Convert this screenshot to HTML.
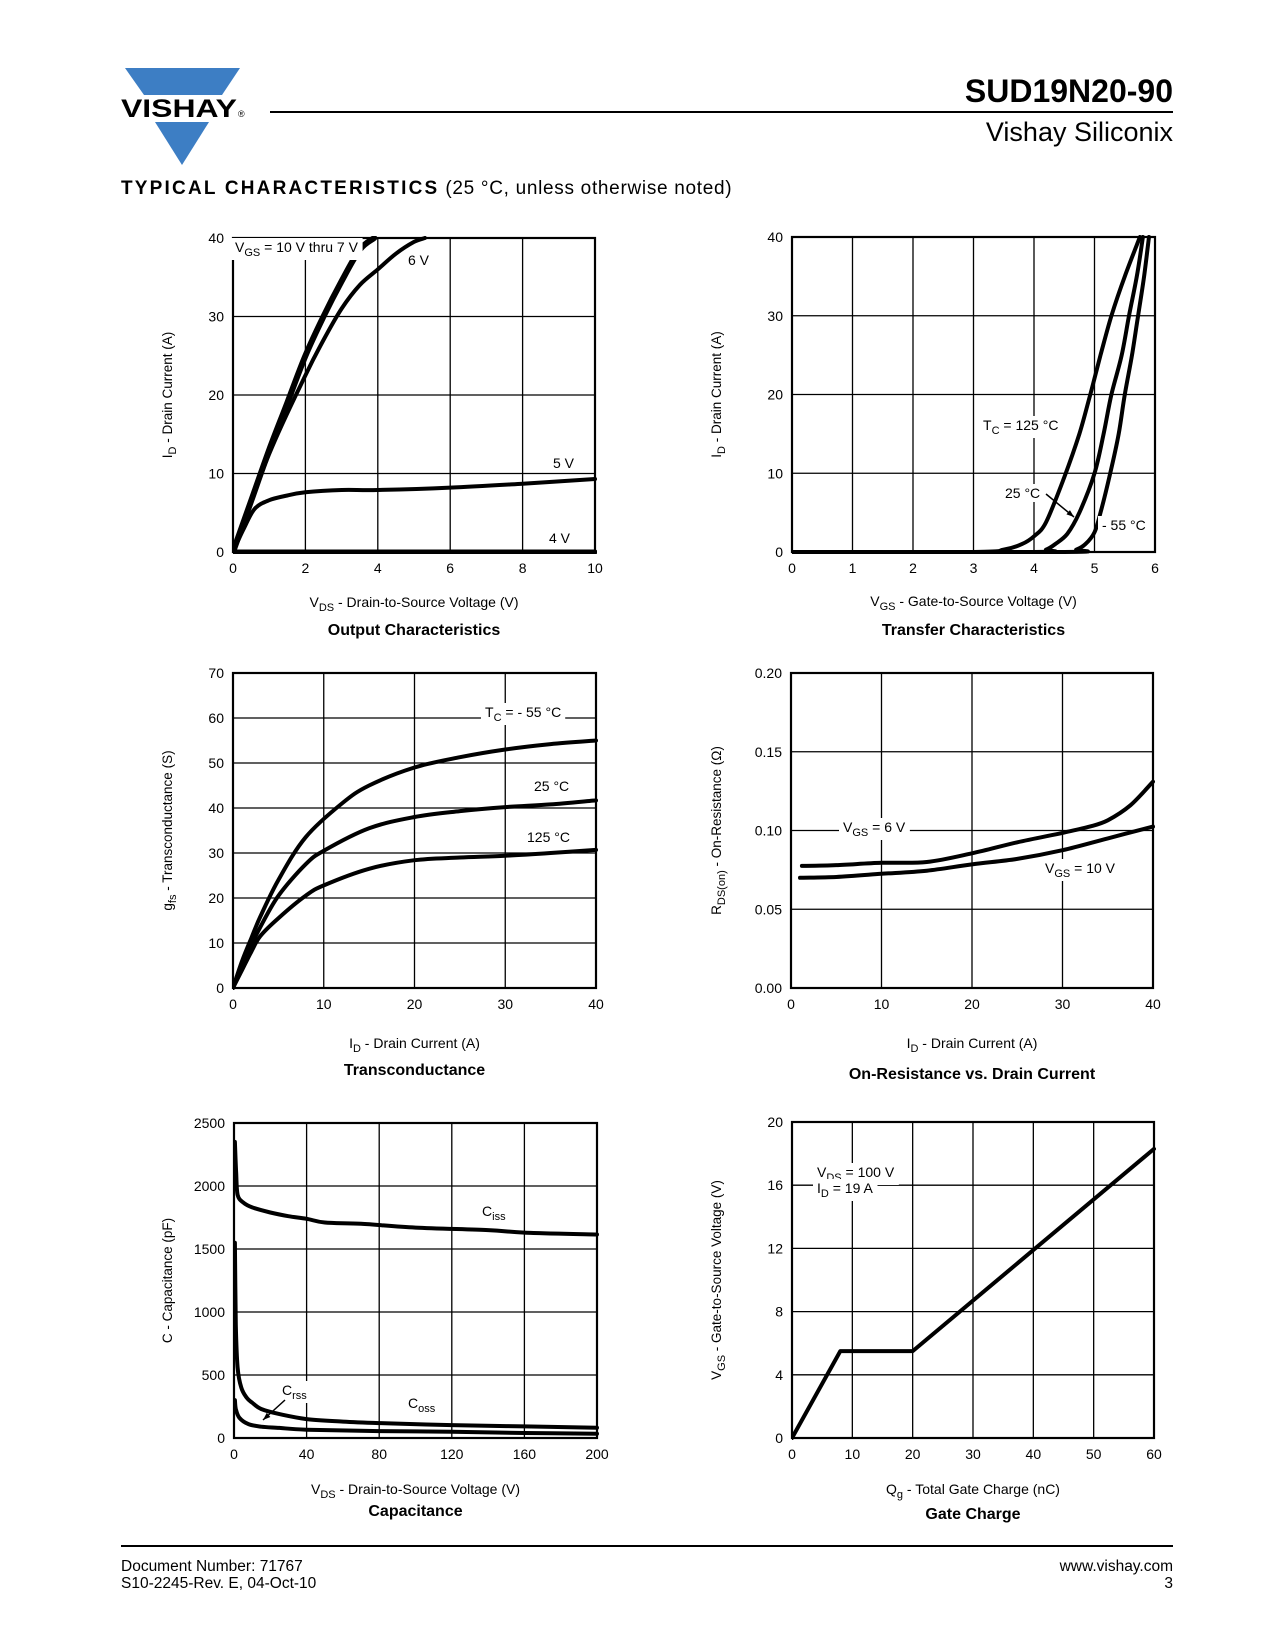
<!DOCTYPE html>
<html><head><meta charset="utf-8"><style>
html,body{margin:0;padding:0;background:#fff}
svg{display:block}
text{font-family:"Liberation Sans",sans-serif;fill:#000}
</style></head><body>
<svg id="page" width="1275" height="1650" viewBox="0 0 1275 1650" xmlns="http://www.w3.org/2000/svg">
<g>
<polygon points="125,68 240,68 222,95 144,95" fill="#3d7ec4"/>
<text x="121" y="117" font-size="25" font-weight="bold" textLength="116" lengthAdjust="spacingAndGlyphs">VISHAY</text>
<text x="238" y="117" font-size="9">®</text>
<polygon points="155,122 209,122 182,165" fill="#3d7ec4"/>
</g>
<line x1="270" y1="112" x2="1173" y2="112" stroke="#000" stroke-width="2"/>
<text x="1173" y="102" font-size="32" font-weight="bold" text-anchor="end">SUD19N20-90</text>
<text x="1173" y="141" font-size="27" text-anchor="end">Vishay Siliconix</text>
<text x="121" y="194" font-size="19"><tspan font-weight="bold" letter-spacing="2.2">TYPICAL CHARACTERISTICS</tspan><tspan letter-spacing="0.7"> (25 °C, unless otherwise noted)</tspan></text>
<line x1="121" y1="1546" x2="1173" y2="1546" stroke="#000" stroke-width="2"/>
<text x="121" y="1571" font-size="15.5">Document Number: 71767</text>
<text x="121" y="1588" font-size="15.5">S10-2245-Rev. E, 04-Oct-10</text>
<text x="1173" y="1571" font-size="15.5" text-anchor="end">www.vishay.com</text>
<text x="1173" y="1588" font-size="15.5" text-anchor="end">3</text>
</svg>
<script>
// ---- Output characteristics ----
const outXTicks=["0","2","4","6","8","10"];
const outYTicks=["0","10","20","30","40"];
const out7to10=[[0,0],[0.5,6.5],[1,13],[1.5,19],[2,25],[2.5,30],[3,34.5],[3.5,38.5],[3.9,40]];
const out6=[[0,0],[1,12.5],[2,22.5],[2.5,27],[3,31],[3.5,34],[4,36],[4.5,38],[5,39.5],[5.3,40]];
const out5=[[0,0],[0.3,3],[0.6,5.5],[1,6.6],[1.5,7.2],[2,7.6],[3,7.9],[4,7.9],[6,8.2],[8,8.7],[10,9.3]];
const out4=[[0,0],[10,0]];
// ---- Transfer characteristics ----
const trXTicks=["0","1","2","3","4","5","6"];
const trYTicks=["0","10","20","30","40"];
const tr125=[[0,0],[3,0],[3.5,0.3],[3.8,1],[4,2],[4.2,3.8],[4.5,9.5],[4.75,15],[4.93,20],[5.1,25],[5.28,30],[5.5,35],[5.75,40]];
const tr25=[[0,0],[4,0],[4.2,0.3],[4.35,1],[4.55,2.3],[4.75,5],[5,10],[5.15,15],[5.28,20],[5.45,25],[5.57,30],[5.7,35],[5.8,40]];
const trM55=[[0,0],[4.5,0],[4.7,0.3],[4.85,1],[5,2.5],[5.1,5],[5.26,10],[5.4,15],[5.5,20],[5.62,25],[5.72,30],[5.82,35],[5.9,40]];
// ---- Transconductance ----
const gfsXTicks=["0","10","20","30","40"];
const gfsYTicks=["0","10","20","30","40","50","60","70"];
const gfsM55=[[0,0],[1,6],[2,11],[3,15.8],[5,24],[8,33.5],[12,41],[15,45],[20,49],[25,51.3],[30,53],[35,54.2],[40,55]];
const gfs25=[[0,0],[1,5],[2,9.5],[3,13.5],[5,20.5],[8,27.5],[10,30.5],[15,35.5],[20,38],[25,39.3],[30,40.2],[35,40.8],[40,41.7]];
const gfs125=[[0,0],[1,4],[2,8],[3,11.5],[5,15.5],[8,20.5],[10,22.8],[15,26.5],[20,28.4],[25,29],[30,29.4],[35,30],[40,30.7]];
// ---- On-resistance ----
const rdsXTicks=["0","10","20","30","40"];
const rdsYTicks=["0.00","0.05","0.10","0.15","0.20"];
const rds6=[[1.2,0.0775],[5,0.078],[10,0.0795],[15,0.080],[20,0.0855],[25,0.0925],[30,0.0985],[33,0.1025],[35,0.1065],[37.5,0.116],[40,0.131]];
const rds10=[[1,0.070],[5,0.0705],[10,0.0725],[15,0.0745],[20,0.0785],[25,0.082],[30,0.0875],[35,0.095],[40,0.1025]];
// ---- Capacitance ----
const capXTicks=["0","40","80","120","160","200"];
const capYTicks=["0","500","1000","1500","2000","2500"];
const capCiss=[[0.5,2350],[1.2,2100],[2,1930],[5,1870],[10,1830],[20,1790],[30,1760],[40,1740],[50,1710],[70,1700],[100,1670],[140,1650],[160,1630],[200,1615]];
const capCoss=[[0.5,1550],[1,900],[2,560],[4,400],[7,320],[10,280],[15,230],[25,190],[40,150],[60,130],[80,118],[120,102],[160,92],[200,82]];
const capCrss=[[0.5,300],[1,230],[3,160],[8,110],[15,90],[25,80],[40,66],[80,55],[120,50],[160,40],[200,34]];
// ---- Gate charge ----
const qgXTicks=["0","10","20","30","40","50","60"];
const qgYTicks=["0","4","8","12","16","20"];
const qgVgs=[[0,0],[8,5.5],[20,5.5],[60,18.3]];

const NS="http://www.w3.org/2000/svg";
const page=document.getElementById('page');
function mk(tag,attrs,parent){const e=document.createElementNS(NS,tag);for(const k in attrs)e.setAttribute(k,attrs[k]);parent.appendChild(e);return e;}
function smoothPath(P){
  if(P.length<3)return P.map((p,i)=>(i?'L':'M')+p[0].toFixed(1)+','+p[1].toFixed(1)).join(' ');
  let d='M'+P[0][0].toFixed(1)+','+P[0][1].toFixed(1);
  for(let i=0;i<P.length-1;i++){
    const p0=P[Math.max(0,i-1)],p1=P[i],p2=P[i+1],p3=P[Math.min(P.length-1,i+2)];
    const c1=[p1[0]+(p2[0]-p0[0])/6,p1[1]+(p2[1]-p0[1])/6];
    const c2=[p2[0]-(p3[0]-p1[0])/6,p2[1]-(p3[1]-p1[1])/6];
    d+=' C'+c1[0].toFixed(1)+','+c1[1].toFixed(1)+' '+c2[0].toFixed(1)+','+c2[1].toFixed(1)+' '+p2[0].toFixed(1)+','+p2[1].toFixed(1);
  }
  return d;
}

function chart(c){
  const g=mk('g',{},page);
  
  
  const xmin=+c.xt[0],xmax=+c.xt[c.xt.length-1],ymin=+c.yt[0],ymax=+c.yt[c.yt.length-1];
  const X=v=>c.l+(v-xmin)/(xmax-xmin)*(c.r-c.l);
  const Y=v=>c.b-(v-ymin)/(ymax-ymin)*(c.b-c.t);
  c.xt.forEach((t,i)=>{
    const x=X(+t);
    if(i>0&&i<c.xt.length-1){const ln=mk('line',{x1:x,y1:c.t,x2:x,y2:c.b,stroke:'#000','stroke-width':1.3},g);
      }
    const tx=mk('text',{x:x,y:c.b+21,'font-size':14,'text-anchor':'middle'},g);tx.textContent=t;
    
  });
  c.yt.forEach((t,i)=>{
    const y=Y(+t);
    if(i>0&&i<c.yt.length-1){const ln=mk('line',{x1:c.l,y1:y,x2:c.r,y2:y,stroke:'#000','stroke-width':1.3},g);
      }
    const tx=mk('text',{x:c.l-9,y:y+5,'font-size':14,'text-anchor':'end'},g);tx.textContent=t;
    
  });
  const bd=mk('rect',{x:c.l,y:c.t,width:c.r-c.l,height:c.b-c.t,fill:'none',stroke:'#000','stroke-width':2.2},g);
  
  const clipId='clip'+c.name;
  const cp=mk('clipPath',{id:clipId},g);mk('rect',{x:c.l,y:c.t-2,width:c.r-c.l+2,height:c.b-c.t+4},cp);
  c.series.forEach(s=>{
    const pts=s.data.map(p=>[X(p[0]),Y(p[1])]);
    const d=s.straight?pts.map((p,i)=>(i?'L':'M')+p[0].toFixed(1)+','+p[1].toFixed(1)).join(' '):smoothPath(pts);
    const p=mk('path',{d:d,fill:'none',stroke:'#000','stroke-width':s.w||4,'stroke-linejoin':'round','stroke-linecap':'round','clip-path':'url(#'+clipId+')'},g);
    
    
  });
  (c.labels||[]).forEach(L=>{
    const tx=mk('text',{x:L.x,y:L.y,'font-size':14},g);
    tx.innerHTML=L.html;
    if(L.bg){const bb=tx.getBBox();const r=document.createElementNS(NS,'rect');
      r.setAttribute('x',bb.x-4);r.setAttribute('y',bb.y-1);r.setAttribute('width',bb.width+8);r.setAttribute('height',bb.height+2);r.setAttribute('fill','#fff');
      g.insertBefore(r,tx);}
    
    
  });
  (c.arrows||[]).forEach(a=>{
    const ln=mk('line',{x1:a[0],y1:a[1],x2:a[2],y2:a[3],stroke:'#000','stroke-width':1.5},g);
    
    const ang=Math.atan2(a[3]-a[1],a[2]-a[0]),h=8;
    const pts=[[a[2],a[3]],[a[2]-h*Math.cos(ang-0.35),a[3]-h*Math.sin(ang-0.35)],[a[2]-h*Math.cos(ang+0.35),a[3]-h*Math.sin(ang+0.35)]];
    const ah=mk('polygon',{points:pts.map(p=>p.join(',')).join(' ')},g);
    
  });
  const cx=(c.l+c.r)/2,cy=(c.t+c.b)/2;
  const xl=mk('text',{x:cx,y:c.xly,'font-size':14,'text-anchor':'middle'},g);xl.innerHTML=c.xlabel;
  
  const yl=mk('text',{x:c.ylx,y:cy,'font-size':13.5,'text-anchor':'middle',transform:'rotate(-90 '+c.ylx+' '+cy+')'},g);yl.innerHTML=c.ylabel;
  
  const ti=mk('text',{x:cx,y:c.ty,'font-size':16,'font-weight':'bold','text-anchor':'middle'},g);ti.textContent=c.title;
  
}
const sub=(s)=>'<tspan dy="4" font-size="11">'+s+'</tspan><tspan dy="-4">';
chart({name:'output-characteristics-chart',l:233,r:595,t:238,b:552,xt:outXTicks,yt:outYTicks,ylx:172,xly:607,ty:635,
  xlabel:'V'+sub('DS')+' - Drain-to-Source Voltage (V)</tspan>',ylabel:'I'+sub('D')+' - Drain Current (A)</tspan>',title:'Output Characteristics',
  series:[{name:'vgs-10-to-7v-curve',data:out7to10,w:6},{name:'vgs-6v-curve',data:out6},{name:'vgs-5v-curve',data:out5},{name:'vgs-4v-curve',data:out4,w:5,straight:true}],
  labels:[{x:235,y:252,html:'V'+sub('GS')+' = 10 V thru 7 V</tspan>',bg:true},{x:408,y:265,html:'6 V',bg:true},{x:553,y:468,html:'5 V'},{x:549,y:543,html:'4 V'}]});
chart({name:'transfer-characteristics-chart',l:792,r:1155,t:237,b:552,xt:trXTicks,yt:trYTicks,ylx:721,xly:606,ty:635,
  xlabel:'V'+sub('GS')+' - Gate-to-Source Voltage (V)</tspan>',ylabel:'I'+sub('D')+' - Drain Current (A)</tspan>',title:'Transfer Characteristics',
  series:[{name:'tc-125c-curve',data:tr125},{name:'tc-25c-curve',data:tr25},{name:'tc-minus55c-curve',data:trM55}],
  labels:[{x:983,y:430,html:'T'+sub('C')+' = 125 °C</tspan>',bg:true},{x:1005,y:498,html:'25 °C',bg:true},{x:1102,y:530,html:'- 55 °C',bg:true}],
  arrows:[[1046,494,1074,517]]});
chart({name:'transconductance-chart',l:233,r:596,t:673,b:988,xt:gfsXTicks,yt:gfsYTicks,ylx:172,xly:1048,ty:1075,
  xlabel:'I'+sub('D')+' - Drain Current (A)</tspan>',ylabel:'g'+sub('fs')+' - Transconductance (S)</tspan>',title:'Transconductance',
  series:[{name:'tc-minus55c-curve',data:gfsM55},{name:'tc-25c-curve',data:gfs25},{name:'tc-125c-curve',data:gfs125}],
  labels:[{x:485,y:717,html:'T'+sub('C')+' = - 55 °C</tspan>',bg:true},{x:534,y:791,html:'25 °C'},{x:527,y:842,html:'125 °C'}]});
chart({name:'on-resistance-chart',l:791,r:1153,t:673,b:988,xt:rdsXTicks,yt:rdsYTicks,ylx:721,xly:1048,ty:1079,
  xlabel:'I'+sub('D')+' - Drain Current (A)</tspan>',ylabel:'R'+sub('DS(on)')+' - On-Resistance (Ω)</tspan>',title:'On-Resistance vs. Drain Current',
  series:[{name:'vgs-6v-curve',data:rds6},{name:'vgs-10v-curve',data:rds10}],
  labels:[{x:843,y:832,html:'V'+sub('GS')+' = 6 V</tspan>',bg:true},{x:1045,y:873,html:'V'+sub('GS')+' = 10 V</tspan>',bg:true}]});
chart({name:'capacitance-chart',l:234,r:597,t:1123,b:1438,xt:capXTicks,yt:capYTicks,ylx:172,xly:1494,ty:1516,
  xlabel:'V'+sub('DS')+' - Drain-to-Source Voltage (V)</tspan>',ylabel:'C - Capacitance (pF)',title:'Capacitance',
  series:[{name:'ciss-curve',data:capCiss},{name:'coss-curve',data:capCoss},{name:'crss-curve',data:capCrss}],
  labels:[{x:482,y:1216,html:'C'+sub('iss')+'</tspan>'},{x:282,y:1395,html:'C'+sub('rss')+'</tspan>',bg:true},{x:408,y:1408,html:'C'+sub('oss')+'</tspan>'}],
  arrows:[[285,1400,263,1420]]});
chart({name:'gate-charge-chart',l:792,r:1154,t:1122,b:1438,xt:qgXTicks,yt:qgYTicks,ylx:721,xly:1494,ty:1519,
  xlabel:'Q'+sub('g')+' - Total Gate Charge (nC)</tspan>',ylabel:'V'+sub('GS')+' - Gate-to-Source Voltage (V)</tspan>',title:'Gate Charge',
  series:[{name:'vgs-vs-qg-curve',data:qgVgs,straight:true}],
  labels:[{x:817,y:1177,html:'V'+sub('DS')+' = 100 V</tspan>',bg:true},{x:817,y:1193,html:'I'+sub('D')+' = 19 A</tspan>',bg:true}]});
</script>
</body></html>
